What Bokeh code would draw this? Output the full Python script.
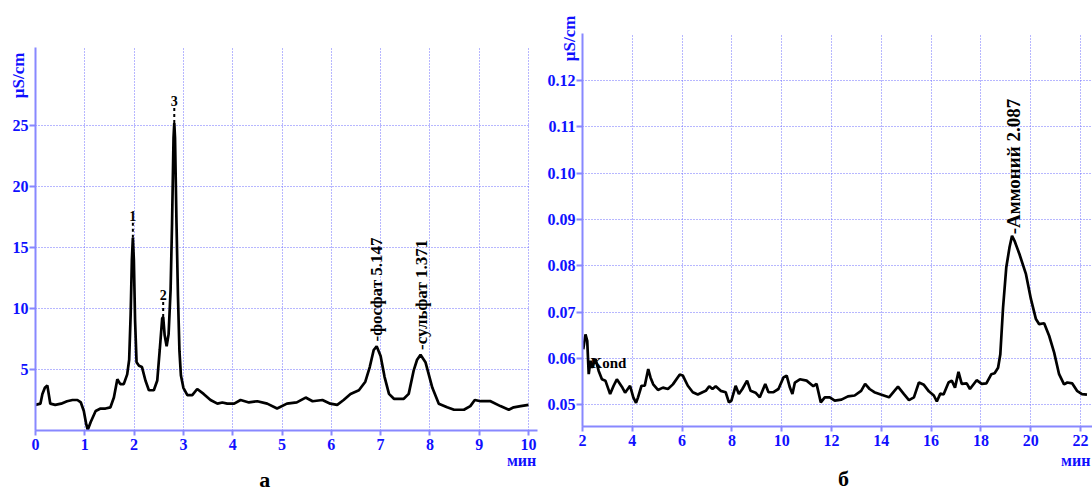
import math
from bokeh.plotting import figure
from bokeh.layouts import row
from bokeh.models import FixedTicker, Label, NumeralTickFormatter, Range1d, ColumnDataSource
from bokeh.core.properties import value
from bokeh.embed import file_html
from bokeh.resources import INLINE

# ---------------- data: chromatogram (а) ----------------
left_t = [0.00, 0.10, 0.14, 0.19, 0.24, 0.30, 0.40, 0.52, 0.64, 0.75,
          0.85, 0.92, 0.98, 1.03, 1.06, 1.12, 1.22, 1.32, 1.42, 1.52,
          1.59, 1.66, 1.72, 1.79, 1.86, 1.90, 1.93, 1.955, 1.975, 1.995,
          2.02, 2.05, 2.10, 2.16, 2.23, 2.30, 2.40, 2.47, 2.52, 2.57,
          2.59, 2.62, 2.66, 2.70, 2.74, 2.77, 2.80, 2.815, 2.83, 2.86,
          2.89, 2.92, 2.95, 3.00, 3.08, 3.18, 3.28, 3.41, 3.55, 3.69,
          3.79, 3.89, 4.03, 4.16, 4.33, 4.50, 4.70, 4.90, 5.10, 5.30,
          5.48, 5.62, 5.82, 5.98, 6.12, 6.25, 6.39, 6.56, 6.69, 6.78,
          6.86, 6.92, 7.00, 7.08, 7.17, 7.27, 7.47, 7.57, 7.67, 7.74,
          7.81, 7.91, 8.05, 8.18, 8.35, 8.49, 8.69, 8.82, 8.91, 9.03,
          9.23, 9.43, 9.60, 9.70, 9.84, 10.00]
left_y = [2.1, 2.2, 3.0, 3.5, 3.7, 2.2, 2.1, 2.2, 2.4, 2.5,
          2.5, 2.3, 1.6, 0.5, 0.05, 0.7, 1.6, 1.8, 1.8, 1.9,
          2.7, 4.2, 3.8, 3.8, 4.6, 5.8, 9.5, 14.0, 15.8, 14.0,
          9.0, 5.6, 5.3, 5.2, 4.1, 3.3, 3.3, 4.1, 6.6, 9.2,
          9.3, 7.8, 6.9, 7.9, 11.5, 17.0, 24.0, 25.2, 24.0, 17.0,
          11.0, 6.5, 4.5, 3.5, 2.9, 2.9, 3.4, 3.0, 2.5, 2.2,
          2.3, 2.2, 2.2, 2.5, 2.3, 2.4, 2.2, 1.8, 2.2, 2.3,
          2.7, 2.4, 2.5, 2.2, 2.1, 2.5, 3.0, 3.3, 4.0, 5.2,
          6.6, 6.9, 6.1, 4.4, 3.0, 2.6, 2.6, 3.0, 4.9, 5.8,
          6.2, 5.6, 3.5, 2.2, 1.9, 1.7, 1.7, 2.0, 2.5, 2.4,
          2.4, 2.0, 1.7, 1.9, 2.0, 2.1]

left_xticks = [0, 1, 2, 3, 4, 5, 6, 7, 8, 9, 10]
left_yticks = [5, 10, 15, 20, 25]
left_x_end = 10.18      # end of the time axis line
left_y_top = 31.4       # top of the conductivity axis line

# numbered peaks
num_names = ["1", "2", "3"]
num_x = [1.975, 2.59, 2.815]
num_peak = [15.8, 9.3, 25.2]
num_label_y = [17.2, 10.7, 26.6]

# named peaks (rotated labels)
named_left = ["-фосфат 5.147", "-сульфат 1.371"]
named_left_x = [6.91, 7.82]
named_left_y = [7.3, 6.6]

# ---------------- data: chromatogram (б) ----------------
right_t = [2.03, 2.12, 2.19, 2.25, 2.32, 2.38, 2.52, 2.65, 2.78, 2.92,
           3.11, 3.25, 3.38, 3.58, 3.71, 3.91, 4.04, 4.15, 4.23, 4.37,
           4.50, 4.64, 4.73, 4.84, 5.03, 5.23, 5.43, 5.63, 5.90, 6.03,
           6.23, 6.43, 6.63, 6.82, 6.95, 7.09, 7.22, 7.35, 7.55, 7.75,
           7.88, 7.98, 8.15, 8.28, 8.42, 8.61, 8.75, 8.95, 9.12, 9.34,
           9.47, 9.67, 9.87, 10.07, 10.20, 10.33, 10.43, 10.53, 10.73, 11.00,
           11.27, 11.40, 11.57, 11.73, 11.93, 12.13, 12.40, 12.66, 12.93, 13.19,
           13.35, 13.53, 13.72, 13.98, 14.31, 14.51, 14.67, 14.91, 15.11, 15.31,
           15.51, 15.71, 15.91, 16.11, 16.23, 16.37, 16.50, 16.70, 16.83, 16.96,
           17.10, 17.23, 17.43, 17.56, 17.83, 18.03, 18.22, 18.42, 18.55, 18.69,
           18.78, 18.89, 19.02, 19.15, 19.25, 19.35, 19.55, 19.81, 20.01, 20.21,
           20.34, 20.54, 20.74, 20.94, 21.14, 21.34, 21.47, 21.67, 21.86, 22.06,
           22.26]
right_y = [0.0620, 0.0652, 0.0638, 0.0566, 0.0595, 0.0580, 0.0599, 0.0573, 0.0555, 0.0552,
           0.0523, 0.0541, 0.0555, 0.0539, 0.0526, 0.0541, 0.0516, 0.0504, 0.0516, 0.0541,
           0.0541, 0.0577, 0.0559, 0.0544, 0.0532, 0.0537, 0.0534, 0.0544, 0.0565, 0.0563,
           0.0541, 0.0527, 0.0522, 0.0527, 0.0530, 0.0540, 0.0534, 0.0540, 0.0530, 0.0527,
           0.0505, 0.0509, 0.0541, 0.0523, 0.0534, 0.0552, 0.0530, 0.0526, 0.0516, 0.0545,
           0.0527, 0.0527, 0.0534, 0.0559, 0.0563, 0.0537, 0.0523, 0.0548, 0.0555, 0.0552,
           0.0540, 0.0545, 0.0505, 0.0516, 0.0516, 0.0509, 0.0511, 0.0518, 0.0520, 0.0530,
           0.0545, 0.0534, 0.0527, 0.0522, 0.0516, 0.0529, 0.0539, 0.0523, 0.0510, 0.0516,
           0.0548, 0.0543, 0.0529, 0.0520, 0.0507, 0.0524, 0.0522, 0.0548, 0.0552, 0.0537,
           0.0571, 0.0545, 0.0546, 0.0534, 0.0553, 0.0545, 0.0546, 0.0566, 0.0568, 0.0580,
           0.0609, 0.0710, 0.0797, 0.0840, 0.0865, 0.0854, 0.0825, 0.0782, 0.0728, 0.0685,
           0.0674, 0.0676, 0.0649, 0.0613, 0.0566, 0.0544, 0.0548, 0.0546, 0.0530, 0.0523,
           0.0522]

right_xticks = [2, 4, 6, 8, 10, 12, 14, 16, 18, 20, 22]
right_yticks = [0.05, 0.06, 0.07, 0.08, 0.09, 0.10, 0.11, 0.12]
right_x0 = 2.0          # start of the time axis
right_y0 = 0.0453       # bottom of the conductivity axis
right_y_top = 0.1302    # top of the conductivity axis line

named_right = ["-Аммоний 2.087"]
named_right_x = [19.30]
named_right_y = [0.0868]

# ---------------- style / geometry ----------------
FONT = "Liberation Serif"
BLUE = "#1010ff"
AXIS = "#8888ff"
GRID = "#6e6eff"

W1, W2, H = 540, 552, 492
# left panel: pixel of origin and pixels per unit
L_PX0, L_SX, L_PY0, L_SY = 35, 49.3, 430, 12.2
# right panel
R_PX0, R_SX, R_PY0, R_SY = 42, 24.9, 426, 4630.0


def style(p, xt, yt, xloc, yloc, xb, yb, hgrid_end):
    p.outline_line_color = None
    p.background_fill_color = "white"
    p.border_fill_color = "white"
    p.xaxis.ticker = FixedTicker(ticks=xt)
    p.yaxis.ticker = FixedTicker(ticks=yt)
    p.xaxis.fixed_location = xloc
    p.yaxis.fixed_location = yloc
    p.xaxis.bounds = xb
    p.yaxis.bounds = yb
    for ax in (p.xaxis[0], p.yaxis[0]):
        ax.axis_line_color = AXIS
        ax.axis_line_width = 2
        ax.major_tick_line_color = AXIS
        ax.major_tick_line_width = 2
        ax.major_tick_in = 0
        ax.minor_tick_line_color = None
        ax.major_label_text_font = FONT
        ax.major_label_text_font_style = "bold"
        ax.major_label_text_font_size = "16px"
        ax.major_label_text_color = BLUE
    p.xaxis.major_tick_out = 5
    p.xaxis.major_label_standoff = 3
    p.yaxis.major_tick_out = 6
    p.yaxis.major_label_standoff = 1
    # grid limited to the chart area
    p.xgrid.ticker = FixedTicker(ticks=xt)
    p.ygrid.ticker = FixedTicker(ticks=yt)
    p.grid.grid_line_color = GRID
    p.grid.grid_line_dash = "1 2"
    p.grid.grid_line_width = 1
    try:
        p.xgrid.cross_bounds = yb
        p.ygrid.cross_bounds = (xb[0], hgrid_end)
    except Exception:
        p.xgrid.visible = False
        p.ygrid.visible = False
        p.segment(x0=xt, y0=[yb[0]] * len(xt), x1=xt, y1=[yb[1]] * len(xt),
                  line_color=GRID, line_dash="1 2", line_width=1)
        p.segment(x0=[xb[0]] * len(yt), y0=yt, x1=[hgrid_end] * len(yt), y1=yt,
                  line_color=GRID, line_dash="1 2", line_width=1)


def add_text(p, x, y, text, size, color="black", angle=0.0, align="center", baseline="middle"):
    p.add_layout(Label(x=x, y=y, text=text, text_font=FONT, text_font_style="bold",
                       text_font_size=size, text_color=color, angle=angle,
                       text_align=align, text_baseline=baseline))


# ---------------- left panel ----------------
p1 = figure(width=W1, height=H,
            x_range=Range1d(-L_PX0 / L_SX, (W1 - L_PX0) / L_SX),
            y_range=Range1d(-(H - L_PY0) / L_SY, L_PY0 / L_SY),
            output_backend="svg", toolbar_location=None, min_border=0)
style(p1, left_xticks, left_yticks, 0, 0, (0, left_x_end), (0, left_y_top), left_xticks[-1])
p1.line(left_t, left_y, line_color="black", line_width=2.7)

src_num = ColumnDataSource(dict(x=num_x, y0=num_peak, y1=[v - 0.1 for v in num_label_y],
                                ty=num_label_y, name=num_names))
p1.segment(x0="x", y0="y0", x1="x", y1="y1", source=src_num, line_color="black",
           line_width=2, line_dash="3 3")
p1.text(x="x", y="ty", text="name", source=src_num, text_font=value(FONT),
        text_font_style="bold", text_font_size="14px", text_align="center",
        text_baseline="bottom", text_color="black")

src_nl = ColumnDataSource(dict(x=named_left_x, y=named_left_y, name=named_left))
p1.text(x="x", y="y", text="name", source=src_nl, angle=math.pi / 2,
        text_font=value(FONT), text_font_style="bold", text_font_size="17px",
        text_align="left", text_baseline="middle", text_color="black")

add_text(p1, -0.345, 29.1, "µS/cm", "17px", BLUE, angle=math.pi / 2)
add_text(p1, 9.86, -2.46, "мин", "16px", BLUE)
add_text(p1, 4.65, -3.98, "а", "22px", "black")

# ---------------- right panel ----------------
r_x_end = right_x0 + (W2 - R_PX0) / R_SX
p2 = figure(width=W2, height=H,
            x_range=Range1d(right_x0 - R_PX0 / R_SX, r_x_end),
            y_range=Range1d(right_y0 - (H - R_PY0) / R_SY, right_y0 + R_PY0 / R_SY),
            output_backend="svg", toolbar_location=None, min_border=0)
style(p2, right_xticks, right_yticks, right_y0, right_x0,
      (right_x0, r_x_end), (right_y0, right_y_top), r_x_end)
p2.yaxis.formatter = NumeralTickFormatter(format="0.00")
p2.line(right_t, right_y, line_color="black", line_width=2.7)

src_nr = ColumnDataSource(dict(x=named_right_x, y=named_right_y, name=named_right))
p2.text(x="x", y="y", text="name", source=src_nr, angle=math.pi / 2,
        text_font=value(FONT), text_font_style="bold", text_font_size="19px",
        text_align="left", text_baseline="middle", text_color="black")

add_text(p2, 2.32, 0.0591, "Kond", "15px", "black", align="left")
add_text(p2, 1.478, 0.1291, "µS/cm", "17px", BLUE, angle=math.pi / 2)
add_text(p2, 22.40, 0.0380, "мин", "16px", BLUE, align="right")
add_text(p2, 12.48, 0.0341, "б", "22px", "black")

layout = row(p1, p2)
open("out.html", "w").write(file_html(layout, INLINE))
